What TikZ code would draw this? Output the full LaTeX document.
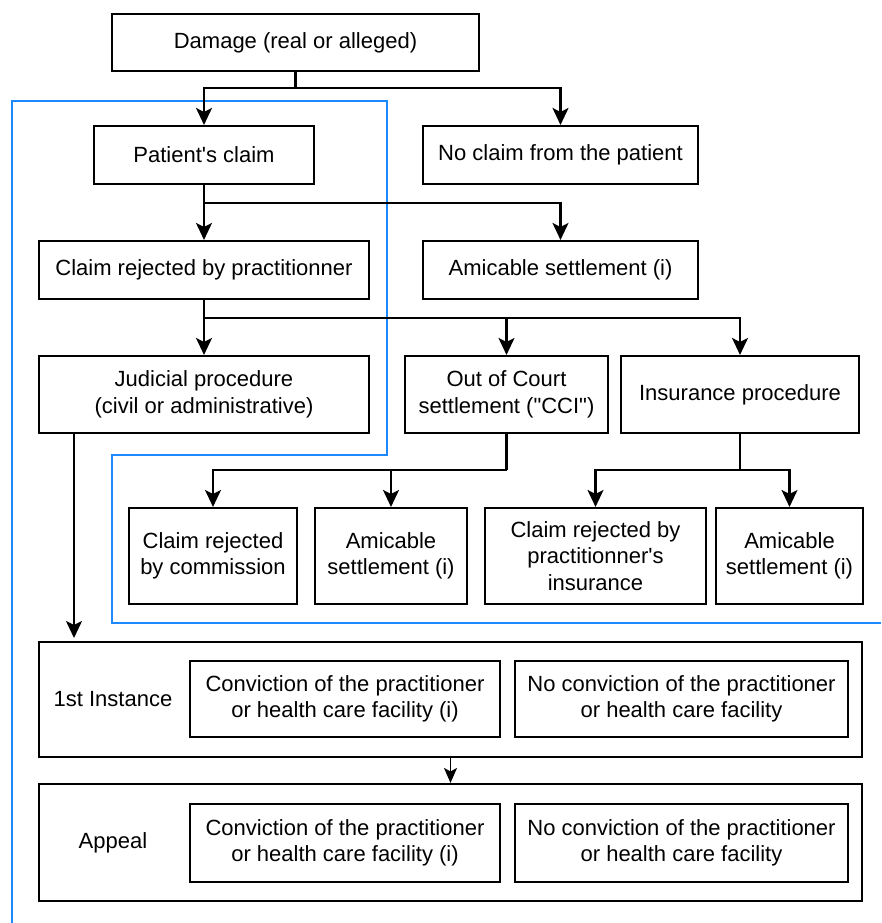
\documentclass[tikz,border=0pt]{standalone}
\usepackage{fontspec}
\setmainfont{Liberation Sans}[Ligatures=TeXOff]
\usetikzlibrary{arrows.meta}
\definecolor{grpblue}{RGB}{30,136,255}
\begin{document}
\begin{tikzpicture}[x=1pt,y=-1pt,
  box/.style={draw, line width=2.1pt, inner sep=0pt, align=center,
    font=\fontsize{22}{26.5}\selectfont},
  lbl/.style={inner sep=0pt, align=center, font=\fontsize{22}{26.5}\selectfont},
  conn/.style={line width=2.1pt},
  arr/.style={line width=2.1pt, -{Stealth[length=17pt,width=16pt,inset=4pt]}},
  thinarr/.style={line width=1.3pt, -{Stealth[length=15pt,width=13pt,inset=3.5pt]}},
  blueline/.style={draw=grpblue, line width=1.9pt}]
\useasboundingbox (0,0) rectangle (881,923);
% group outline
\draw[blueline] (881,623) -- (112,623) -- (112,455) -- (387,455) -- (387,101) -- (12,101) -- (12,923);
% nodes
\node[box, minimum width=367pt, minimum height=57pt] (damage) at (295.5,42.5) {Damage (real or alleged)};
\node[box, minimum width=220pt, minimum height=58pt] (patient) at (204,155) {Patient's claim};
\node[box, minimum width=275pt, minimum height=58pt] (noclaim) at (560.5,155) {No claim from the patient};
\node[box, minimum width=330pt, minimum height=58pt] (rejected) at (204,270) {Claim rejected by practitionner};
\node[box, minimum width=275pt, minimum height=58pt] (amic1) at (560.5,270) {Amicable settlement (i)};
\node[box, minimum width=330pt, minimum height=77pt] (judicial) at (204,394.5) {Judicial procedure\\(civil or administrative)};
\node[box, minimum width=203pt, minimum height=77pt] (court) at (506.5,394.5) {Out of Court\\settlement ("CCI")};
\node[box, minimum width=238pt, minimum height=77pt] (insurance) at (740,394.5) {Insurance procedure};
\node[box, minimum width=168pt, minimum height=96pt] (commission) at (213,556) {Claim rejected\\by commission};
\node[box, minimum width=152pt, minimum height=96pt] (amic2) at (391,556) {Amicable\\settlement (i)};
\node[box, minimum width=221pt, minimum height=96pt] (insrej) at (595.5,556) {Claim rejected by\\practitionner's\\insurance};
\node[box, minimum width=147pt, minimum height=96pt] (amic3) at (789.5,556) {Amicable\\settlement (i)};
\node[box, minimum width=823pt, minimum height=115pt] (first) at (450.5,699.5) {};
\node[lbl] (firstlbl) at (113,699.5) {1st Instance};
\node[box, minimum width=310pt, minimum height=76pt] (conv1) at (345,699) {Conviction of the practitioner\\or health care facility (i)};
\node[box, minimum width=333pt, minimum height=76pt] (noconv1) at (681.5,699) {No conviction of the practitioner\\or health care facility};
\node[box, minimum width=823pt, minimum height=117pt] (appeal) at (450.5,842.5) {};
\node[lbl] (appeallbl) at (113,843) {Appeal};
\node[box, minimum width=310pt, minimum height=78pt] (conv2) at (345,843) {Conviction of the practitioner\\or health care facility (i)};
\node[box, minimum width=333pt, minimum height=78pt] (noconv2) at (681.5,843) {No conviction of the practitioner\\or health care facility};
% connectors
\coordinate (b1) at (295.5,88);
\draw[conn] (damage.south) -- (b1);
\draw[arr] (b1) -| (patient.north);
\draw[arr] (b1) -| (noclaim.north);
\coordinate (b2) at (204,203);
\draw[conn] (patient.south) -- (b2);
\draw[arr] (b2) -- (rejected.north);
\draw[arr] (b2) -| (amic1.north);
\coordinate (b3) at (204,318);
\draw[conn] (rejected.south) -- (b3);
\draw[arr] (b3) -- (judicial.north);
\draw[arr] (b3) -| (court.north);
\draw[arr] (b3) -| (insurance.north);
\coordinate (b4) at (506.5,470);
\draw[conn] (court.south) -- (b4);
\draw[arr] (b4) -| (commission.north);
\draw[arr] (b4) -| (amic2.north);
\coordinate (b5) at (740,470);
\draw[conn] (insurance.south) -- (b5);
\draw[arr] (b5) -| (insrej.north);
\draw[arr] (b5) -| (amic3.north);
\coordinate (jend) at (74,638);
\draw[arr] (judicial.south -| jend) -- (jend);
\draw[thinarr] (first.south) -- (appeal.north);
\end{tikzpicture}
\end{document}
